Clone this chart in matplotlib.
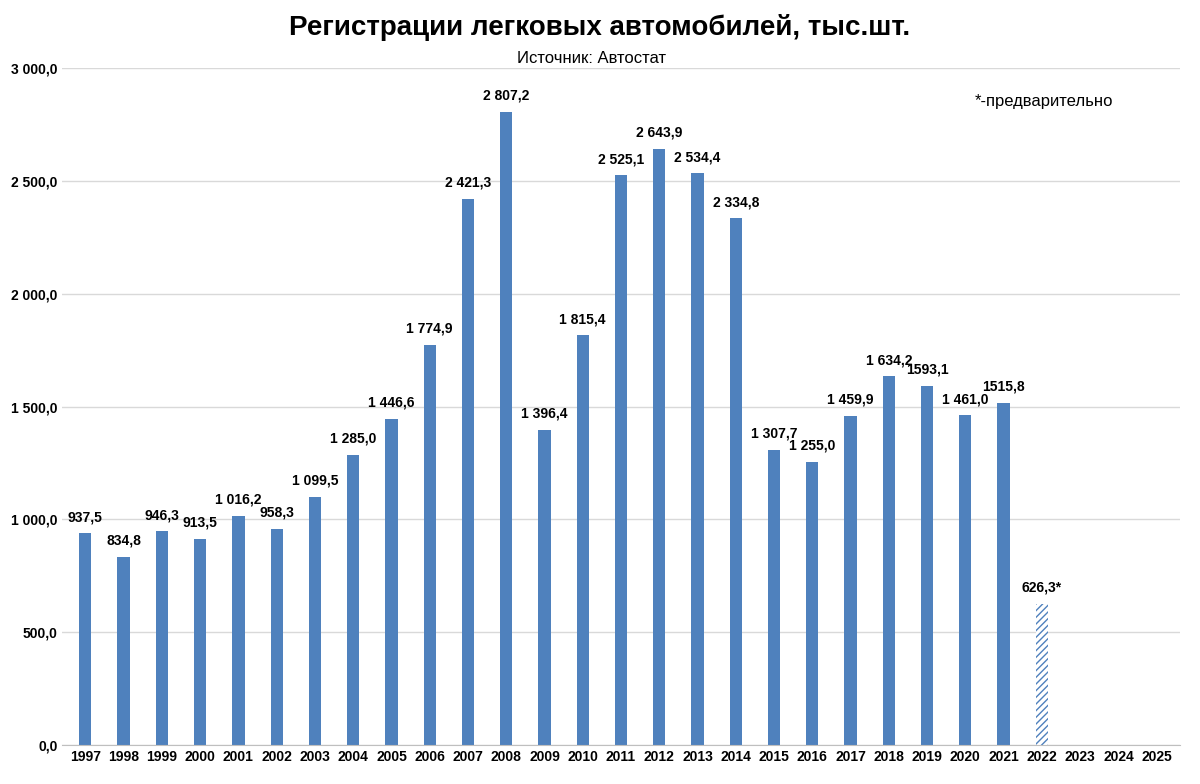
import matplotlib.pyplot as plt
import numpy as np

years = [str(y) for y in range(1997, 2026)]
values = [937.5, 834.8, 946.3, 913.5, 1016.2, 958.3, 1099.5, 1285.0, 1446.6, 1774.9,
          2421.3, 2807.2, 1396.4, 1815.4, 2525.1, 2643.9, 2534.4, 2334.8, 1307.7, 1255.0,
          1459.9, 1634.2, 1593.1, 1461.0, 1515.8, 626.3, None, None, None]
labels = ["937,5", "834,8", "946,3", "913,5", "1 016,2", "958,3", "1 099,5", "1 285,0",
          "1 446,6", "1 774,9", "2 421,3", "2 807,2", "1 396,4", "1 815,4", "2 525,1",
          "2 643,9", "2 534,4", "2 334,8", "1 307,7", "1 255,0", "1 459,9", "1 634,2",
          "1593,1", "1 461,0", "1515,8", "626,3*", "", "", ""]
yticks = [0, 500, 1000, 1500, 2000, 2500, 3000]
ytick_labels = ["0,0", "500,0", "1 000,0", "1 500,0", "2 000,0", "2 500,0", "3 000,0"]
preliminary_year = "2022"

plt.rcParams["font.family"] = "Liberation Sans"
fig = plt.figure(figsize=(12, 7.84), dpi=100)
ax = fig.add_axes([0.052, 0.05, 0.931, 0.863])

blue = "#4F81BD"
x = np.arange(len(years))
for i, (yr, v, lab) in enumerate(zip(years, values, labels)):
    if v is None:
        continue
    if yr == preliminary_year:
        ax.bar(i, v, width=0.32, color="white", edgecolor=blue, hatch="/////", linewidth=0)
        plt.rcParams["hatch.linewidth"] = 3
    else:
        ax.bar(i, v, width=0.32, color=blue)
    ax.text(i, v + 40, lab, ha="center", va="bottom", fontsize=10, fontweight="bold")

ax.set_xlim(-0.6, len(years) - 0.4)
ax.set_ylim(0, 3000)
ax.set_xticks(x)
ax.set_xticklabels(years, fontsize=10, fontweight="bold")
ax.set_yticks(yticks)
ax.set_yticklabels(ytick_labels, fontsize=10, fontweight="bold")
ax.tick_params(length=0)
ax.yaxis.grid(True, color="#D9D9D9", linewidth=1)
ax.set_axisbelow(True)
for s in ["top", "right", "left"]:
    ax.spines[s].set_visible(False)
ax.spines["bottom"].set_color("#BFBFBF")

fig.text(0.5, 0.955, "Регистрации легковых автомобилей, тыс.шт.", ha="center",
         fontsize=20, fontweight="bold")
fig.text(0.493, 0.92, "Источник: Автостат", ha="center", fontsize=12)
fig.text(0.87, 0.865, "*-предварительно", ha="center", fontsize=12)

fig.savefig("out.png", dpi=100)
